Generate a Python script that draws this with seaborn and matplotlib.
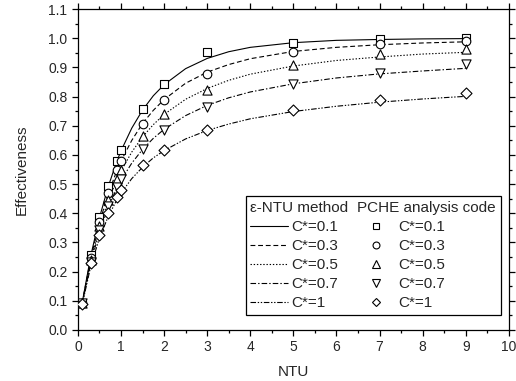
import matplotlib
matplotlib.use("Agg")
import matplotlib.pyplot as plt
from matplotlib.lines import Line2D
import seaborn as sns
import pandas as pd

# ---- data ----
ntu_line = [0.1, 0.3, 0.5, 0.7, 0.9, 1.0, 1.25, 1.5, 1.75, 2.0, 2.5, 3.0, 3.5, 4.0, 5.0, 6.0, 7.0, 8.0, 9.0]
line_c01 = [0.094, 0.255, 0.385, 0.490, 0.577, 0.614, 0.692, 0.754, 0.803, 0.841, 0.896, 0.931, 0.954, 0.969, 0.985, 0.993, 0.996, 0.998, 0.999]
line_c03 = [0.093, 0.247, 0.368, 0.465, 0.545, 0.579, 0.650, 0.708, 0.753, 0.790, 0.846, 0.884, 0.910, 0.930, 0.955, 0.969, 0.978, 0.984, 0.988]
line_c05 = [0.092, 0.239, 0.352, 0.442, 0.514, 0.545, 0.610, 0.662, 0.704, 0.739, 0.791, 0.828, 0.856, 0.877, 0.905, 0.924, 0.936, 0.946, 0.952]
line_c07 = [0.090, 0.231, 0.337, 0.419, 0.485, 0.513, 0.572, 0.619, 0.657, 0.688, 0.735, 0.770, 0.796, 0.816, 0.844, 0.864, 0.878, 0.888, 0.897]
line_c10 = [0.088, 0.220, 0.315, 0.388, 0.445, 0.469, 0.519, 0.558, 0.590, 0.615, 0.655, 0.684, 0.706, 0.724, 0.749, 0.767, 0.781, 0.792, 0.801]

ntu_pts = [0.1, 0.3, 0.5, 0.7, 0.9, 1.0, 1.5, 2.0, 3.0, 5.0, 7.0, 9.0]
pts_c01 = [0.094, 0.257, 0.386, 0.492, 0.578, 0.616, 0.756, 0.842, 0.953, 0.985, 0.999, 1.002]
pts_c03 = [0.093, 0.248, 0.370, 0.468, 0.548, 0.580, 0.707, 0.788, 0.879, 0.953, 0.979, 0.991]
pts_c05 = [0.092, 0.240, 0.355, 0.445, 0.518, 0.548, 0.664, 0.739, 0.822, 0.907, 0.945, 0.962]
pts_c07 = [0.091, 0.233, 0.341, 0.424, 0.490, 0.517, 0.621, 0.685, 0.764, 0.844, 0.882, 0.911]
pts_c10 = [0.089, 0.229, 0.326, 0.401, 0.456, 0.479, 0.567, 0.616, 0.687, 0.753, 0.788, 0.811]

labels = ["C*=0.1", "C*=0.3", "C*=0.5", "C*=0.7", "C*=1"]
header_left = "\u03b5-NTU method"
header_right = "PCHE analysis code"
x_ticks = [0, 1, 2, 3, 4, 5, 6, 7, 8, 9, 10]
y_ticks = [0.0, 0.1, 0.2, 0.3, 0.4, 0.5, 0.6, 0.7, 0.8, 0.9, 1.0, 1.1]

# ---- styling ----
sns.set_style("ticks")
plt.rcParams["font.family"] = ["Liberation Sans", "DejaVu Sans"]
plt.rcParams["lines.scale_dashes"] = False
plt.rcParams["axes.linewidth"] = 0.9

line_series = [line_c01, line_c03, line_c05, line_c07, line_c10]
pt_series = [pts_c01, pts_c03, pts_c05, pts_c07, pts_c10]
dash_styles = ["-", (0, (3.5, 2)), (0, (1, 1.3)), (0, (4, 1.5, 1, 1.5)), (0, (4, 1.2, 1, 1.2, 1, 1.2))]
markers = ["s", "o", "^", "v", "D"]
msizes = [6.2, 6.2, 6.6, 6.6, 5.6]

fig = plt.figure(figsize=(5.16, 3.81), dpi=100)
ax = fig.add_axes([0.151, 0.134, 0.835, 0.842])

line_handles = []
mark_handles = []
for ys, ls, lab in zip(line_series, dash_styles, labels):
    df = pd.DataFrame({"NTU": ntu_line, "eff": ys})
    sns.lineplot(data=df, x="NTU", y="eff", ax=ax, color="black", lw=0.8,
                 linestyle=ls, sort=True, estimator=None, legend=False, zorder=2)
    line_handles.append(Line2D([], [], color="black", lw=0.8, linestyle=ls))

for ys, mk, ms in zip(pt_series, markers, msizes):
    df = pd.DataFrame({"NTU": ntu_pts, "eff": ys})
    sns.scatterplot(data=df, x="NTU", y="eff", ax=ax, marker=mk, s=ms ** 2,
                    facecolor="white", edgecolor="black", linewidth=0.8,
                    legend=False, zorder=3)
    mark_handles.append(Line2D([], [], color="black", marker=mk, ls="none",
                               markersize=ms * 0.8, markerfacecolor="white",
                               markeredgewidth=0.8))

ax.set_xlim(0, 10)
ax.set_ylim(0, 1.1)
ax.set_xticks(x_ticks)
ax.set_yticks(y_ticks)
ax.set_xticklabels([str(t) for t in x_ticks])
ax.set_yticklabels([f"{t:.1f}" for t in y_ticks])
ax.set_xticks([t + 0.5 for t in x_ticks[:-1]], minor=True)
ax.set_yticks([t + 0.05 for t in y_ticks[:-1]], minor=True)
ax.tick_params(which="both", direction="out", top=True, right=True,
               labelsize=10, color="black", width=0.9)
ax.tick_params(which="major", length=4.5, pad=3)
ax.tick_params(which="minor", length=2.5)
for s in ax.spines.values():
    s.set_visible(True)
    s.set_color("black")
ax.set_xlabel("NTU", fontsize=11, labelpad=8)
ax.set_ylabel("Effectiveness", fontsize=11, labelpad=14)

blank = Line2D([], [], ls="none")
handles = [blank] + line_handles + [blank] + mark_handles
leg_labels = [header_left] + labels + [header_right] + labels
leg = ax.legend(handles, leg_labels, ncol=2, loc="lower right",
                bbox_to_anchor=(0.981, 0.047), borderaxespad=0,
                fontsize=11, frameon=True, fancybox=False, framealpha=1,
                edgecolor="black", handlelength=2.5, handletextpad=0.2,
                columnspacing=0.6, labelspacing=0.33, borderpad=0.3)
leg.get_frame().set_linewidth(0.9)

# headers span the handle area
for col in leg._legend_handle_box.get_children():
    first = col.get_children()[0]
    da = first.get_children()[0]
    da.width = 0
    first.sep = 0

fig.savefig("out.png", dpi=100)
